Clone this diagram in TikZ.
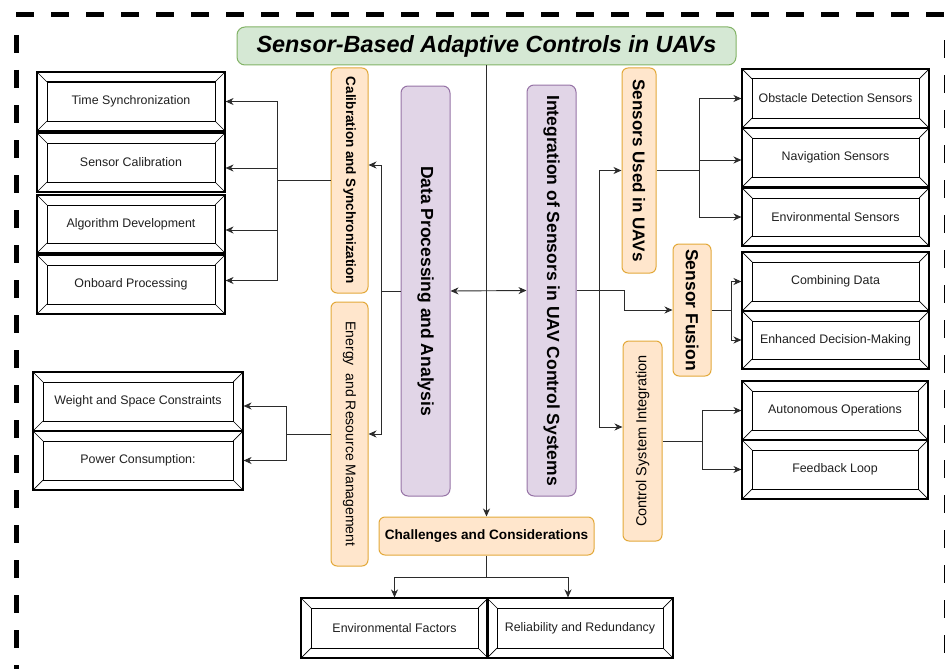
\documentclass[tikz,border=0pt]{standalone}
\usepackage{fontspec}
\usepackage{graphicx}
\setmainfont{Liberation Sans}
\usetikzlibrary{arrows.meta}
\definecolor{gfill}{HTML}{D5E8D4}
\definecolor{gline}{HTML}{82B366}
\definecolor{pfill}{HTML}{E1D5E7}
\definecolor{pline}{HTML}{9673A6}
\definecolor{ofill}{HTML}{FFE6CC}
\definecolor{oline}{HTML}{E3A93A}
\definecolor{cline}{HTML}{2B2B2B}
\begin{document}
\begin{tikzpicture}[x=1pt,y=-1pt,
  framedash/.style={line width=5pt, dash pattern=on 18pt off 17pt, black},
  bevel/.style n args={2}{draw=black, line width=1.1pt, inner sep=0pt,
    minimum width=#1pt, minimum height=#2pt,
    font=\fontsize{12.4}{14}\selectfont, text=black!88,
    path picture={
      \path (path picture bounding box.north west) coordinate (q1)
            (path picture bounding box.south east) coordinate (q2);
      \draw[line width=1pt] ([shift={(10pt,-10pt)}]q1) rectangle ([shift={(-10pt,10pt)}]q2);
      \draw[line width=0.7pt] (q1) -- ++(10pt,-10pt);
      \draw[line width=0.7pt] (q2) -- ++(-10pt,10pt);
      \draw[line width=0.7pt] (q1 |- q2) -- ++(10pt,10pt);
      \draw[line width=0.7pt] (q2 |- q1) -- ++(-10pt,-10pt);
    }},
  obox/.style={draw=oline, fill=ofill, line width=1pt, rounded corners=6pt, inner sep=0pt},
  pbox/.style={draw=pline, fill=pfill, line width=1pt, rounded corners=7pt, inner sep=0pt},
  conn/.style={draw=cline, line width=0.9pt},
  arr/.style={conn, -{Stealth[length=8pt,width=7pt,inset=2.5pt]}},
  darr/.style={conn, {Stealth[length=8pt,width=7pt,inset=2.5pt]}-{Stealth[length=8pt,width=7pt,inset=2.5pt]}}
]
\useasboundingbox (0,0) rectangle (945,669);

% outer dashed frame
\draw[framedash] (16,15) -- (960,15);
\draw[framedash] (16,35) -- (16,690);
\draw[framedash] (946.5,40) -- (946.5,690);

% title
\node[draw=gline, fill=gfill, line width=1pt, rounded corners=8pt, inner sep=0pt,
      minimum width=499pt, minimum height=38pt,
      font=\fontsize{23.4}{26}\selectfont\bfseries\itshape] (title) at (486.5,46)
      {Sensor-Based Adaptive Controls in UAVs};

% purple columns
\node[pbox, minimum width=49pt, minimum height=410pt, font=\fontsize{17.5}{20}\selectfont\bfseries]
  (dpa) at (425.5,291) {\rotatebox{-90}{Data Processing and Analysis}};
\node[pbox, minimum width=49pt, minimum height=411pt, font=\fontsize{17.5}{20}\selectfont\bfseries]
  (isu) at (551.5,290.5) {\rotatebox{-90}{Integration of Sensors in UAV Control Systems}};

% orange boxes
\node[obox, minimum width=37pt, minimum height=225pt, font=\fontsize{13.5}{16}\selectfont\bfseries]
  (cal) at (349.5,180.5) {\rotatebox{-90}{Calibration and Synchronization}};
\node[obox, minimum width=37pt, minimum height=264pt, font=\fontsize{14}{16}\selectfont]
  (erm) at (349.5,434) {\rotatebox{-90}{Energy\ \ and Resource Management}};
\node[obox, minimum width=34pt, minimum height=205pt, font=\fontsize{17}{20}\selectfont\bfseries]
  (su) at (639,170.5) {\rotatebox{-90}{Sensors Used in UAVs}};
\node[obox, minimum width=38pt, minimum height=132pt, font=\fontsize{17.5}{20}\selectfont\bfseries]
  (sf) at (692,310) {\rotatebox{-90}{Sensor Fusion}};
\node[obox, minimum width=39pt, minimum height=200pt, font=\fontsize{14.5}{17}\selectfont]
  (csi) at (642.5,441) {\rotatebox{90}{Control System Integration}};
\node[obox, minimum width=215pt, minimum height=38pt, font=\fontsize{13.6}{16}\selectfont\bfseries]
  (cc) at (486.5,536) {Challenges and Considerations};

% left bevel boxes
\node[bevel={188}{59}] (ts) at (131,101.5) {Time Synchronization};
\node[bevel={188}{59}] (sc) at (131,162.5) {Sensor Calibration};
\node[bevel={188}{58}] (ad) at (131,224) {Algorithm Development};
\node[bevel={188}{59}] (op) at (131,284.5) {Onboard Processing};
\node[bevel={210}{59}] (ws) at (138,401.5) {Weight and Space Constraints};
\node[bevel={210}{59}] (pc) at (138,460.5) {Power Consumption:};

% right bevel boxes
\node[bevel={187}{59}] (ods) at (835.5,98.5) {Obstacle Detection Sensors};
\node[bevel={187}{59}] (ns) at (835.5,157.5) {Navigation Sensors};
\node[bevel={187}{58}] (es) at (835.5,217) {Environmental Sensors};
\node[bevel={187}{59}] (cd) at (835.5,281.5) {Combining Data};
\node[bevel={187}{58}] (edm) at (835.5,340) {Enhanced Decision-Making};
\node[bevel={186}{59}] (ao) at (835,410.5) {Autonomous Operations};
\node[bevel={186}{59}] (fl) at (835,469.5) {Feedback Loop};

% bottom bevel boxes
\node[bevel={187}{60}] (ef) at (394.5,628) {Environmental Factors};
\node[bevel={186}{60}] (rr) at (580,628) {Reliability and Redundancy};

% connectors
\draw[arr] (title.south) -- (cc.north);
\draw[darr] (dpa.east) -- (isu.west);

\draw[conn] (dpa.west) -- ++(-19,0) coordinate (dj);
\draw[arr] (dj) |- ([yshift=15.5pt]cal.east);
\draw[arr] (dj) |- (erm.east);

\draw[conn] (cal.west) -- ++(-53,0) coordinate (cj);
\draw[arr] (cj) |- (ts.east);
\draw[arr] (cj) |- ([yshift=-5.5pt]sc.east);
\draw[arr] (cj) |- ([yshift=-6pt]ad.east);
\draw[arr] (cj) |- ([yshift=4pt]op.east);

\draw[conn] (erm.west) -- ++(-44,0) coordinate (ej);
\draw[arr] (ej) |- ([yshift=-4.5pt]ws.east);
\draw[arr] (ej) |- (pc.east);

\draw[conn] (isu.east) -- ++(23,0) coordinate (ij);
\draw[arr] (ij) |- (su.west);
\draw[arr] (ij) |- ([yshift=14pt]csi.west);
\draw[arr] (isu.east) -- ++(48,0) |- (sf.west);

\draw[conn] (su.east) -- ++(43,0) coordinate (sj);
\draw[arr] (sj) |- (ods.west);
\draw[arr] (sj) |- ([yshift=-2.5pt]ns.west);
\draw[arr] (sj) |- (es.west);

\draw[conn] (sf.east) -- ++(20,0) coordinate (fj);
\draw[arr] (fj) |- (cd.west);
\draw[arr] (fj) |- (edm.west);

\draw[conn] (csi.east) -- ++(40,0) coordinate (kj);
\draw[arr] (kj) |- (ao.west);
\draw[arr] (kj) |- (fl.west);

\draw[conn] (cc.south) -- ++(0,22) coordinate (bj);
\draw[arr] (bj) -| (ef.north);
\draw[arr] (bj) -| ([xshift=-12pt]rr.north);
\end{tikzpicture}
\end{document}
